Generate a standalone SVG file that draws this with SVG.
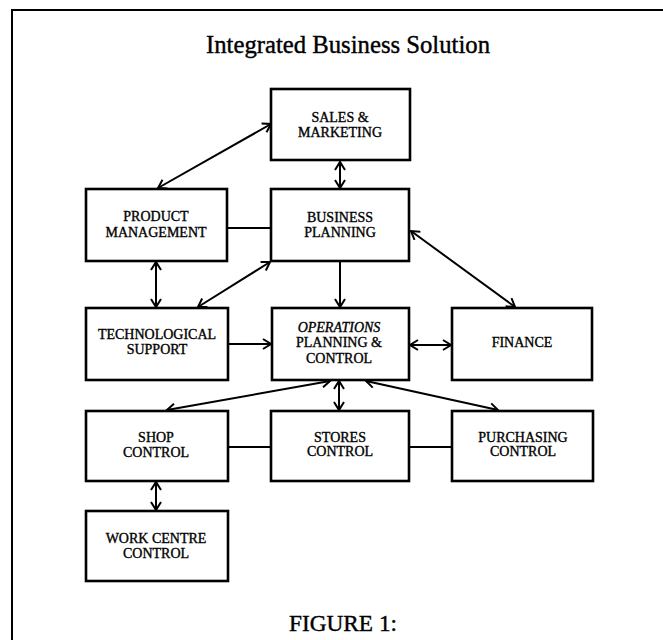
<svg xmlns="http://www.w3.org/2000/svg" width="663" height="640" viewBox="0 0 663 640">
<style>
.box{fill:#fff;stroke:#000;stroke-width:2.6}
.lbl{font-family:"Liberation Serif","Times New Roman",serif;font-size:14px;fill:#000;stroke:#000;stroke-width:0.35;text-anchor:middle}
.it{font-style:italic}
.ttl{font-family:"Liberation Serif","Times New Roman",serif;fill:#000;stroke:#000;stroke-width:0.4;text-anchor:middle}
.c{stroke:#000;stroke-width:2;fill:none}
.a{marker-end:url(#ah)}
.d{marker-start:url(#ah);marker-end:url(#ah)}
</style>
<defs>
<marker id="ah" viewBox="-10 -6 12 12" markerWidth="12" markerHeight="12" refX="0" refY="0" orient="auto-start-reverse" markerUnits="userSpaceOnUse">
<path d="M-8,-5 L0,0 L-8,5" fill="none" stroke="#000" stroke-width="2"/>
</marker>
</defs>
<rect width="663" height="640" fill="#fff"/>
<path d="M12,640 L12,10 L663,10" fill="none" stroke="#000" stroke-width="2"/>
<text class="ttl" x="348" y="53" font-size="25" textLength="284" lengthAdjust="spacingAndGlyphs">Integrated Business Solution</text>
<g id="connectors">
<line class="c d" x1="271" y1="124" x2="158" y2="188"/>
<line class="c d" x1="340" y1="162" x2="340" y2="188"/>
<line class="c" x1="227" y1="228" x2="271" y2="228"/>
<line class="c d" x1="156" y1="262" x2="156" y2="307"/>
<line class="c d" x1="270" y1="262" x2="198" y2="307"/>
<line class="c a" x1="340" y1="262" x2="340" y2="307"/>
<line class="c d" x1="411" y1="231" x2="515" y2="307"/>
<line class="c a" x1="228" y1="344" x2="271" y2="344"/>
<line class="c d" x1="410" y1="345" x2="451" y2="345"/>
<line class="c d" x1="330" y1="381" x2="167" y2="410"/>
<line class="c d" x1="339" y1="381" x2="339" y2="410"/>
<line class="c d" x1="366" y1="381" x2="498" y2="410"/>
<line class="c" x1="228" y1="447" x2="271" y2="447"/>
<line class="c" x1="409" y1="447" x2="452" y2="447"/>
<line class="c d" x1="156" y1="482" x2="156" y2="510"/>
</g>
<g id="sales">
<rect class="box" x="271" y="89" width="139" height="71"/>
<text class="lbl" x="340" y="122">SALES &amp;</text>
<text class="lbl" x="340" y="137">MARKETING</text>
</g>
<g id="product">
<rect class="box" x="86" y="189" width="141" height="72"/>
<text class="lbl" x="156" y="221">PRODUCT</text>
<text class="lbl" x="156" y="237">MANAGEMENT</text>
</g>
<g id="business">
<rect class="box" x="271" y="189" width="138" height="72"/>
<text class="lbl" x="340" y="222">BUSINESS</text>
<text class="lbl" x="340" y="237">PLANNING</text>
</g>
<g id="tech">
<rect class="box" x="86" y="308" width="142" height="72"/>
<text class="lbl" x="157" y="339">TECHNOLOGICAL</text>
<text class="lbl" x="157" y="354">SUPPORT</text>
</g>
<g id="operations">
<rect class="box" x="272" y="308" width="137" height="72"/>
<text class="lbl it" x="339" y="332">OPERATIONS</text>
<text class="lbl" x="339" y="347">PLANNING &amp;</text>
<text class="lbl" x="339" y="363">CONTROL</text>
</g>
<g id="finance">
<rect class="box" x="452" y="308" width="140" height="72"/>
<text class="lbl" x="522" y="347">FINANCE</text>
</g>
<g id="shop">
<rect class="box" x="86" y="411" width="142" height="70"/>
<text class="lbl" x="156" y="442">SHOP</text>
<text class="lbl" x="156" y="457">CONTROL</text>
</g>
<g id="stores">
<rect class="box" x="271" y="411" width="138" height="70"/>
<text class="lbl" x="340" y="442">STORES</text>
<text class="lbl" x="340" y="456">CONTROL</text>
</g>
<g id="purchasing">
<rect class="box" x="452" y="411" width="141" height="70"/>
<text class="lbl" x="523" y="442">PURCHASING</text>
<text class="lbl" x="523" y="456">CONTROL</text>
</g>
<g id="workcentre">
<rect class="box" x="86" y="511" width="142" height="70"/>
<text class="lbl" x="156" y="543">WORK CENTRE</text>
<text class="lbl" x="156" y="558">CONTROL</text>
</g>
<text class="ttl" x="343" y="631" font-size="23" textLength="108" lengthAdjust="spacingAndGlyphs">FIGURE 1:</text>
</svg>
